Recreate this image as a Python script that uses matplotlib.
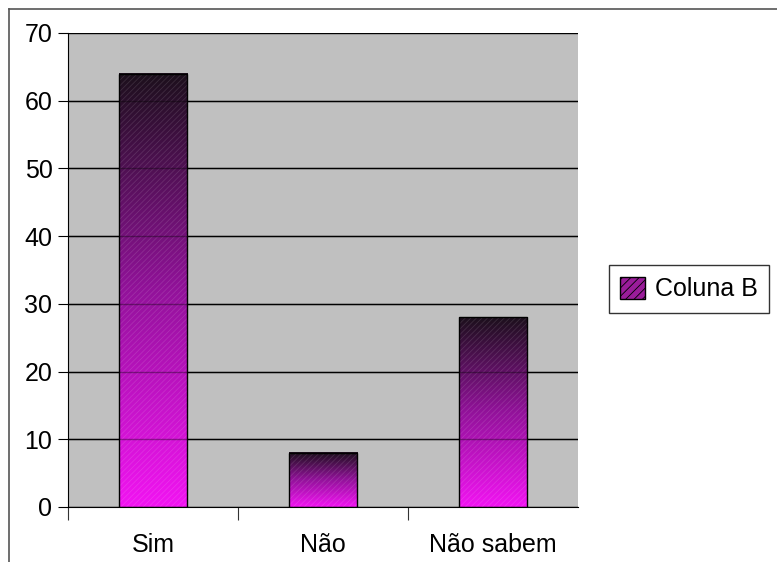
import numpy as np
import matplotlib
matplotlib.use("Agg")
import matplotlib.pyplot as plt
import matplotlib.patches as mpatches
from matplotlib.colors import LinearSegmentedColormap
from matplotlib.lines import Line2D

# ── Data ─────────────────────────────────────────────
categories = ["Sim", "Não", "Não sabem"]
values = [64, 8, 28]
series_name = "Coluna B"
yticks = [0, 10, 20, 30, 40, 50, 60, 70]

# ── Style ────────────────────────────────────────────
plt.rcParams["font.family"] = ["Liberation Sans", "DejaVu Sans"]
plt.rcParams["hatch.linewidth"] = 0.6
grad = LinearSegmentedColormap.from_list("pm", ["#f214f2", "#92129a", "#1c0f1c"])

fig = plt.figure(figsize=(7.77, 5.62), dpi=100)
ax = fig.add_axes([0.0875, 0.0979, 0.6565, 0.8434])
ax.set_facecolor("#c0c0c0")

x = np.arange(len(categories))
bars = ax.bar(x, values, width=0.4, color="none", edgecolor="black",
              linewidth=1.0, zorder=4)

# gradient fill, one per bar
g = np.linspace(0, 1, 256).reshape(-1, 1)
for b in bars:
    x0, w, h = b.get_x(), b.get_width(), b.get_height()
    ax.imshow(g, cmap=grad, aspect="auto", origin="lower",
              extent=[x0, x0 + w, 0, h], zorder=2)
# fine diagonal hatching on top of the gradient
ax.bar(x, values, width=0.4, color="none", edgecolor=(1, 1, 1, 0.12),
       hatch="//////", linewidth=0, zorder=3)

ax.set_xlim(-0.5, len(categories) - 0.5)
ax.set_ylim(0, 70)
ax.set_yticks(yticks)
ax.yaxis.grid(True, color="black", linewidth=1.0)
ax.set_axisbelow(True)
# gridlines faintly visible through the bars
for t in yticks[1:-1]:
    ax.axhline(t, color="black", linewidth=1.0, alpha=0.35, zorder=3)

# ticks on category boundaries, labels centered under bars
ax.set_xticks(np.arange(len(categories)) - 0.5)
ax.set_xticklabels([])
ax.set_xticks(x, minor=True)
ax.set_xticklabels(categories, minor=True)
ax.tick_params(axis="x", which="major", length=9.4, width=0.8, color="#333")
ax.tick_params(axis="x", which="minor", length=0, pad=19, labelsize=18)
ax.tick_params(axis="y", length=7.2, width=0.8, labelsize=18, pad=4)

for s in ["top", "right"]:
    ax.spines[s].set_visible(False)
ax.spines["left"].set_color("black")
ax.spines["bottom"].set_color("black")

# legend
handle = mpatches.Patch(facecolor="#9a1c9a", edgecolor="black",
                        hatch="////", label=series_name)
leg = fig.legend(handles=[handle], loc="center",
                 bbox_to_anchor=(0.887, 0.4857), fontsize=18,
                 fancybox=False, framealpha=1, edgecolor="#333",
                 handlelength=1.0, handleheight=1.0, handletextpad=0.4,
                 borderpad=0.45)
leg.get_frame().set_linewidth(1.0)

# outer chart border (top and left)
fig.add_artist(Line2D([0.0116, 0.0116], [0, 0.984], color="#555", lw=1.2))
fig.add_artist(Line2D([0.0116, 1], [0.984, 0.984], color="#555", lw=1.2))

fig.savefig("out.png", dpi=100)
